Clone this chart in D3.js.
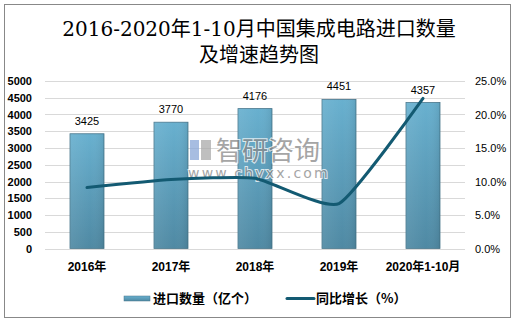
<!DOCTYPE html>
<html><head><meta charset="utf-8">
<script src="https://cdn.jsdelivr.net/npm/d3@7/dist/d3.min.js"></script>
<style>body{margin:0;background:#fff}svg{display:block}</style>
</head><body>
<script>
const categories = ["2016年","2017年","2018年","2019年","2020年1-10月"];
const imports = [3425, 3770, 4176, 4451, 4357];
const growth = [9.1, 10.3, 10.5, 6.7, 22.4];
const leftTicks = [0,500,1000,1500,2000,2500,3000,3500,4000,4500,5000];
const rightTicks = [0,5,10,15,20,25];
const titleLines = ["2016-2020年1-10月中国集成电路进口数量","及增速趋势图"];
const legendLabels = ["进口数量（亿个）","同比增长（%）"];

const W=516,H=322;
const svg=d3.select("body").append("svg").attr("width",W).attr("height",H);
const defs=svg.append("defs");
const g1=defs.append("linearGradient").attr("id","barg").attr("x1",0).attr("y1",0).attr("x2",0).attr("y2",1);
g1.append("stop").attr("offset","0%").attr("stop-color","#68b0cf");
g1.append("stop").attr("offset","100%").attr("stop-color","#4f89a3");
const g2=defs.append("linearGradient").attr("id","barh").attr("x1",0).attr("y1",0).attr("x2",1).attr("y2",0);
g2.append("stop").attr("offset","0%").attr("stop-color","#ffffff").attr("stop-opacity",0.08);
g2.append("stop").attr("offset","60%").attr("stop-color","#ffffff").attr("stop-opacity",0);
g2.append("stop").attr("offset","100%").attr("stop-color","#000000").attr("stop-opacity",0.08);

svg.append("rect").attr("x",4.5).attr("y",4.5).attr("width",506).attr("height",313)
  .attr("fill","#fff").attr("stroke","#888").attr("stroke-width",1);

// title
svg.append("g").selectAll("text").data(titleLines).join("text")
  .attr("x",259).attr("y",(d,i)=>36+i*26).attr("text-anchor","middle")
  .attr("font-family","'DejaVu Serif','Liberation Serif','Noto Sans CJK SC',serif")
  .attr("font-size",20).attr("fill","#000").text(d=>d);

const x=d3.scaleBand().domain(categories).range([45,465]);
const y=d3.scaleLinear().domain([0,5000]).range([248.5,81]);
const y2=d3.scaleLinear().domain([0,25]).range([248.5,81]);

// grid
svg.append("g").selectAll("line").data(leftTicks).join("line")
  .attr("x1",45).attr("x2",465).attr("y1",d=>Math.round(y(d))+0.5).attr("y2",d=>Math.round(y(d))+0.5)
  .attr("stroke","#d9d9d9").attr("stroke-width",1);

// axes
const fontAx="'Liberation Sans',Arial,'Noto Sans CJK SC',sans-serif";
const la=svg.append("g").attr("transform","translate(32,0)")
  .call(d3.axisLeft(y).tickValues(leftTicks).tickSize(0).tickPadding(0).tickFormat(d3.format("d")));
la.select(".domain").remove();
la.selectAll("text").attr("font-family",fontAx).attr("font-size",11).attr("font-weight","bold").attr("fill","#000");
const ra=svg.append("g").attr("transform","translate(475,0)")
  .call(d3.axisRight(y2).tickValues(rightTicks).tickSize(0).tickPadding(0).tickFormat(d=>d.toFixed(1)+"%"));
ra.select(".domain").remove();
ra.selectAll("text").attr("font-family",fontAx).attr("font-size",11).attr("fill","#000");

const xa=svg.append("g").attr("transform","translate(0,262)")
  .call(d3.axisBottom(x).tickSize(0).tickPadding(0));
xa.select(".domain").remove();
xa.selectAll("text").attr("font-family",fontAx).attr("font-size",12).attr("font-weight","bold").attr("fill","#000");

// bars
const bw=34;
const bars=svg.append("g").selectAll("g").data(imports).join("g");
bars.append("rect").attr("x",(d,i)=>x(categories[i])+x.bandwidth()/2-bw/2).attr("y",d=>y(d))
  .attr("width",bw).attr("height",d=>y(0)-y(d)).attr("fill","url(#barg)").attr("stroke","#47758b").attr("stroke-width",0.8);
bars.append("rect").attr("x",(d,i)=>x(categories[i])+x.bandwidth()/2-bw/2).attr("y",d=>y(d))
  .attr("width",bw).attr("height",d=>y(0)-y(d)).attr("fill","url(#barh)");
bars.append("text").attr("x",(d,i)=>x(categories[i])+x.bandwidth()/2).attr("y",d=>y(d)-9)
  .attr("text-anchor","middle").attr("font-family",fontAx).attr("font-size",11).attr("fill","#000").text(d=>d);

// watermark
const wm=svg.append("g").attr("opacity",0.75);
wm.append("rect").attr("x",190).attr("y",140).attr("width",9).attr("height",20).attr("fill","#8aa8d8");
wm.append("rect").attr("x",201).attr("y",140).attr("width",10).attr("height",20).attr("fill","#aaa");
wm.append("text").attr("x",216).attr("y",160).attr("font-family","'Noto Sans CJK SC',sans-serif")
  .attr("font-size",26).attr("fill","#888").attr("stroke","#fff").attr("stroke-width",2).attr("paint-order","stroke").text("智研咨询");
wm.append("text").attr("x",188).attr("y",178).attr("font-family","'DejaVu Sans',sans-serif")
  .attr("font-size",14).attr("letter-spacing",2.2).attr("fill","#888").attr("stroke","#fff").attr("stroke-width",2).attr("paint-order","stroke").text("www.chyxx.com");

// line
const line=d3.line().x((d,i)=>x(categories[i])+x.bandwidth()/2).y(d=>y2(d)).curve(d3.curveCardinal.tension(0.5));
svg.append("path").datum(growth).attr("d",line).attr("fill","none").attr("stroke","#135a72")
  .attr("stroke-width",3).attr("stroke-linecap","round");

// legend
const lg=svg.append("g");
lg.append("rect").attr("x",124).attr("y",296).attr("width",26).attr("height",5).attr("fill","url(#barg)").attr("stroke","#47758b").attr("stroke-width",0.5);
lg.append("text").attr("x",153).attr("y",303).attr("font-family","'Noto Sans CJK SC',sans-serif").attr("font-size",13).attr("font-weight","bold").text(legendLabels[0]);
lg.append("line").attr("x1",287).attr("x2",314).attr("y1",298.5).attr("y2",298.5).attr("stroke","#135a72").attr("stroke-width",3).attr("stroke-linecap","round");
lg.append("text").attr("x",316).attr("y",303).attr("font-family","'Noto Sans CJK SC',sans-serif").attr("font-size",13).attr("font-weight","bold").text(legendLabels[1]);
</script>
</body></html>
